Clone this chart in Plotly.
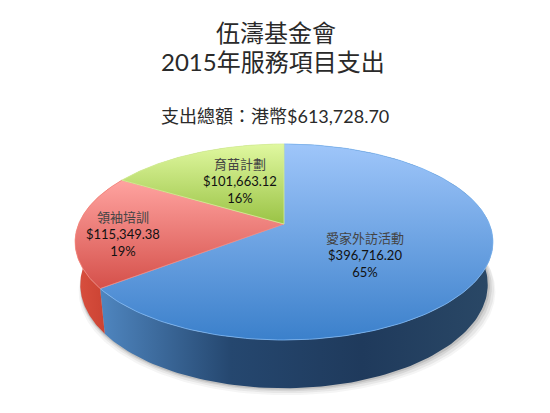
import numpy as np
import plotly.graph_objects as go

# 資料
categories = ["愛家外訪活動", "領袖培訓", "育苗計劃"]
values = [396716.20, 115349.38, 101663.12]
percent_labels = ["65%", "19%", "16%"]
title_lines = ["伍濤基金會", "2015年服務項目支出"]
total_label = "支出總額：港幣$613,728.70"

# 顏色 (y軸反向, 漸層由下到上)
top_colors = [["#3B80CB", "#9FC6FA"], ["#D5504A", "#FFA3A0"], ["#9AC345", "#E0F8A0"]]
rim_colors = ["#7DB8F5", "#F58A80", "#D5EE9A"]
side_colors = [["#4F86C0", "#25476F", "#1F3A5C", "#2A4866"], ["#D9503F", "#C23A2B"], ["#A0C050", "#A0C050"]]

# 透視橢圓參數 (像素座標)
cx, width, persp = 284, 205.4, 0.1837
y_a, y_b = -53.55, 224
low_xscale, low_yscale, low_shift = 0.975, 1.058, 42.6
mid_y = 243
page_margin = 8  # 頁面 body 預設留白


def project(t):
    # t: 由12點鐘順時針的角度
    u, v = np.sin(t), np.cos(t)
    w = 1 + persp * v
    return cx + width * u / w, (y_a * v + y_b) / w


def project_low(t, grow=0.0, dx=0.0, dy=0.0):
    x, y = project(t)
    return (cx + (x - cx) * (low_xscale + grow) + dx,
            mid_y + (y - mid_y) * low_yscale + low_shift + dy)


def scale(colors):
    steps = np.linspace(0, 1, len(colors))
    return [[float(s), c] for s, c in zip(steps, colors)]


fractions = np.array(values) / sum(values)
edges = np.concatenate([[0], np.cumsum(fractions)]) * 2 * np.pi

fig = go.Figure()

# 陰影
full = np.linspace(np.pi * 0.35, np.pi * 1.65, 200)
for grow, dx, dy, alpha in [(0.022, 3, 7, 0.05), (0.016, 3, 5, 0.07), (0.01, 2, 3, 0.10), (0.005, 1, 1.5, 0.14)]:
    sx, sy = project_low(full, grow, dx, dy)
    fig.add_trace(go.Scatter(x=sx, y=sy, mode="lines", line=dict(width=0), fill="toself",
                             fillcolor=f"rgba(60,60,60,{alpha})", hoverinfo="skip"))

# 側面
for i in range(len(values)):
    t = np.linspace(edges[i], edges[i + 1], 160)
    x1, y1 = project(t)
    x2, y2 = project_low(t)
    fig.add_trace(go.Scatter(
        x=np.concatenate([x1, x2[::-1]]), y=np.concatenate([y1, y2[::-1]]),
        mode="lines", line=dict(width=0), fill="toself",
        fillgradient=dict(type="horizontal", colorscale=scale(side_colors[i])),
        hoverinfo="skip"))

# 上面
for i in range(len(values)):
    t = np.linspace(edges[i], edges[i + 1], 160)
    x1, y1 = project(t)
    fig.add_trace(go.Scatter(
        x=np.concatenate([[cx], x1, [cx]]), y=np.concatenate([[y_b], y1, [y_b]]),
        mode="lines", line=dict(width=0.8, color=rim_colors[i]), fill="toself",
        fillgradient=dict(type="vertical", colorscale=scale(top_colors[i])),
        hoverinfo="skip"))

mixed = "Lato, Noto Sans CJK TC"
fig.add_annotation(x=276, y=32, text=title_lines[0], font=dict(family=mixed, size=24, color="#2a2a2a"))
fig.add_annotation(x=273, y=61, text=title_lines[1], font=dict(family=mixed, size=24, color="#2a2a2a"))
fig.add_annotation(x=275, y=116, text=total_label, font=dict(family=mixed, size=18, color="#2a2a2a"))

label_x = [365, 123, 240]
label_y = [255, 234, 181]
for i, name in enumerate(categories):
    text = f"<span style='color:#444444'>{name}</span><br>${values[i]:,.2f}<br>{percent_labels[i]}"
    fig.add_annotation(x=label_x[i], y=label_y[i], text=text, font=dict(family=mixed, size=13, color="#111111"))

fig.update_annotations(showarrow=False, xref="x", yref="y")
fig.update_xaxes(range=[page_margin, 550], visible=False, fixedrange=True)
fig.update_yaxes(range=[413, page_margin], visible=False, fixedrange=True)
fig.update_layout(width=550 - page_margin, height=413 - page_margin, margin=dict(l=0, r=0, t=0, b=0),
                  showlegend=False, paper_bgcolor="white", plot_bgcolor="white")
fig.write_html("out.html")
